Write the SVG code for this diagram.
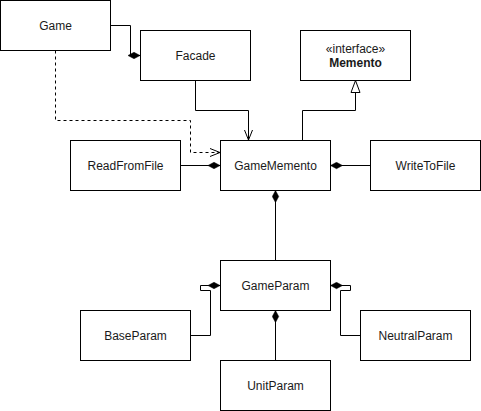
<svg xmlns="http://www.w3.org/2000/svg" width="481" height="411" viewBox="0 0 481 411">
<defs>
<style>
.box{fill:#ffffff;stroke:#000000;stroke-width:1}
.lbl{font-family:"Liberation Sans",Helvetica,Arial,sans-serif;font-size:12px;fill:#1a1a1a;text-anchor:middle}
.edge{fill:none;stroke:#000000;stroke-width:1}
.dash{stroke-dasharray:3,3}
</style>
<marker id="diamond" viewBox="0 0 12 8" refX="12" refY="4" markerWidth="12" markerHeight="8" markerUnits="userSpaceOnUse" orient="auto">
<path d="M0,4 L6,0.8 L12,4 L6,7.2 Z" fill="#000" stroke="#000" stroke-width="0.5"/>
</marker>
<marker id="open" viewBox="-1 -1 12 10" refX="10" refY="4" markerWidth="12" markerHeight="10" markerUnits="userSpaceOnUse" orient="auto">
<path d="M0,0 L10,4 L0,8" fill="none" stroke="#000" stroke-width="1"/>
</marker>
<marker id="tri" viewBox="-1 -1 14 11" refX="12" refY="4.5" markerWidth="14" markerHeight="11" markerUnits="userSpaceOnUse" orient="auto">
<path d="M0,0 L12,4.5 L0,9 Z" fill="#fff" stroke="#000" stroke-width="1"/>
</marker>
</defs>
<rect width="481" height="411" fill="#ffffff"/>
<g id="connectors">
<path class="edge" d="M110.5,25.5 H130.5 V55.5 H140" marker-end="url(#diamond)"/>
<path class="edge" d="M195.5,80.5 V110.5 H248.5 V140" marker-end="url(#open)"/>
<path class="edge" d="M302.5,140 V110.5 H355.5 V80.5" marker-end="url(#tri)"/>
<path class="edge dash" d="M55.5,50.5 V120.5 H190.5 V152.5 H220" marker-end="url(#open)"/>
<path class="edge" d="M180.5,165.5 H220" marker-end="url(#diamond)"/>
<path class="edge" d="M370.5,165.5 H330.5" marker-end="url(#diamond)"/>
<path class="edge" d="M275.5,260.5 V190.5" marker-end="url(#diamond)"/>
<path class="edge" d="M190.5,335.5 H210.5 V290.5 H200.5 V285.5 H220" marker-end="url(#diamond)"/>
<path class="edge" d="M360.5,335.5 H340.5 V290.5 H350.5 V285.5 H330.5" marker-end="url(#diamond)"/>
<path class="edge" d="M275.5,360.5 V310.5" marker-end="url(#diamond)"/>
</g>
<g id="Game"><rect class="box" x="0.5" y="0.5" width="110" height="50"/><text class="lbl" x="55.5" y="29.5">Game</text></g>
<g id="Facade"><rect class="box" x="140.5" y="30.5" width="110" height="50"/><text class="lbl" x="195.5" y="59.5">Facade</text></g>
<g id="Memento"><rect class="box" x="300.5" y="30.5" width="110" height="50"/><text class="lbl" x="355.5" y="53">«interface»</text><text class="lbl" x="355.5" y="66.5" font-weight="bold">Memento</text></g>
<g id="ReadFromFile"><rect class="box" x="70.5" y="140.5" width="110" height="50"/><text class="lbl" x="125.5" y="169.5">ReadFromFile</text></g>
<g id="GameMemento"><rect class="box" x="220.5" y="140.5" width="110" height="50"/><text class="lbl" x="275.5" y="169.5">GameMemento</text></g>
<g id="WriteToFile"><rect class="box" x="370.5" y="140.5" width="110" height="50"/><text class="lbl" x="425.5" y="169.5">WriteToFile</text></g>
<g id="GameParam"><rect class="box" x="220.5" y="260.5" width="110" height="50"/><text class="lbl" x="275.5" y="289.5">GameParam</text></g>
<g id="BaseParam"><rect class="box" x="80.5" y="310.5" width="110" height="50"/><text class="lbl" x="135.5" y="339.5">BaseParam</text></g>
<g id="NeutralParam"><rect class="box" x="360.5" y="310.5" width="110" height="50"/><text class="lbl" x="415.5" y="339.5">NeutralParam</text></g>
<g id="UnitParam"><rect class="box" x="220.5" y="360.5" width="110" height="50"/><text class="lbl" x="275.5" y="389.5">UnitParam</text></g>
</svg>
